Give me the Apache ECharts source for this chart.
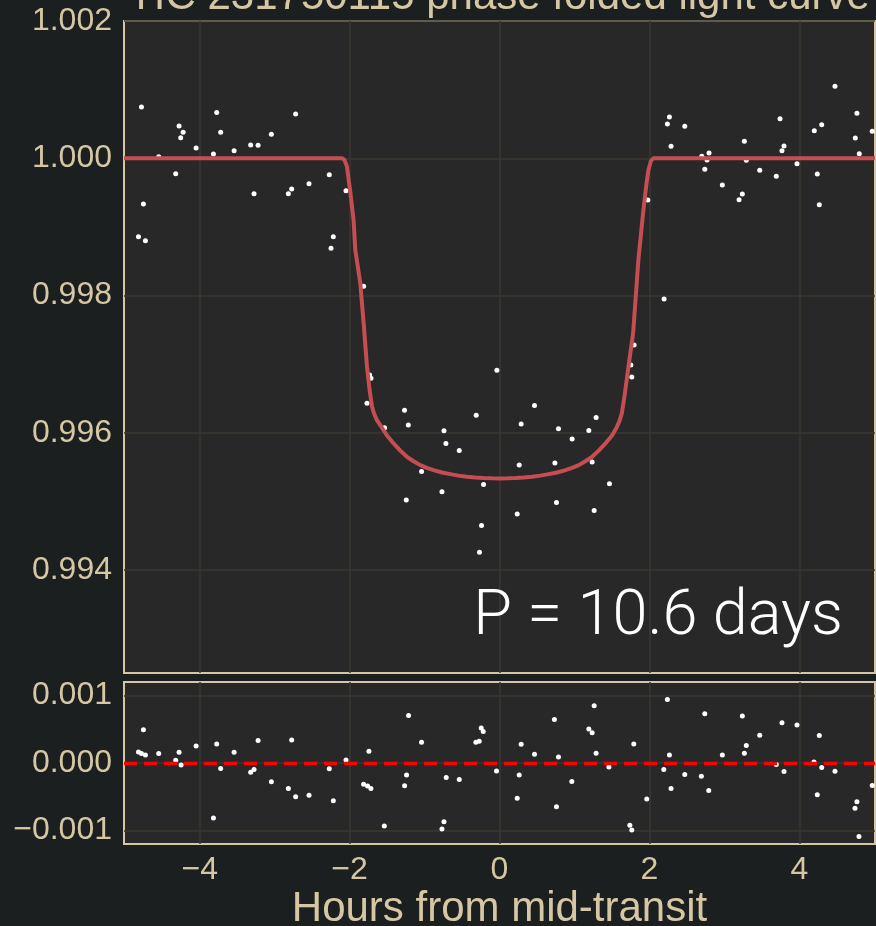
<!DOCTYPE html>
<html><head><meta charset="utf-8">
<script src="https://cdn.jsdelivr.net/npm/echarts@6/dist/echarts.min.js"></script>
<style>html,body{margin:0;padding:0;background:#1c1f20;}#c{width:876px;height:926px;}</style>
</head><body><div id="c"></div>
<script>
const titleText = 'TIC 231750115 phase folded light curve';
const xAxisName = 'Hours from mid-transit';
const periodLabel = 'P = 10.6 days';

const hourTicks = [-4, -2, 0, 2, 4];
const fluxTicks = [0.994, 0.996, 0.998, 1.000, 1.002];
const residTicks = [-0.001, 0, 0.001];

const obsHours = [-4.777,-3.773,-2.720,-4.275,-4.221,-4.253,-3.720,-3.044,-4.048,-3.320,-3.221,-3.541,-3.817,-4.547,-4.320,-2.271,-2.541,-2.773,-2.817,-3.275,-2.048,-4.751,-4.817,-4.724,-2.217,-2.248,
  4.476,4.769,2.267,2.240,2.472,3.743,4.299,4.200,4.973,4.747,3.267,2.289,3.796,3.769,2.796,2.699,4.800,2.769,3.293,3.969,2.739,3.472,3.693,4.240,2.973,3.240,3.196,4.267,1.979,2.196,
  -1.813,-1.715,-1.733,-1.768,-1.533,-1.267,-1.217,-0.741,-0.715,-0.537,-0.311,-0.035,-1.040,-1.244,-0.768,-0.213,-0.240,-0.267,
  0.467,0.289,0.787,0.969,1.192,1.289,0.263,0.739,1.236,1.467,0.236,0.760,1.263,1.796,1.765,1.752];
const obsFlux = [1.000748,1.000665,1.000646,1.000471,1.000379,1.000300,1.000379,1.000350,1.000150,1.000194,1.000190,1.000111,1.000063,1.000023,0.999776,0.999761,0.999630,0.999552,0.999484,0.999484,0.999528,0.999334,0.998857,0.998799,0.998857,0.998688,
  1.001050,1.000656,1.000602,1.000500,1.000466,1.000577,1.000490,1.000402,1.000394,1.000296,1.000248,1.000175,1.000179,1.000111,1.000077,1.000029,1.000067,0.999975,0.999971,0.999921,0.999840,0.999825,0.999738,0.999771,0.999611,0.999480,0.999397,0.999324,0.999392,0.997949,
  0.998134,0.996793,0.996841,0.996429,0.996073,0.996327,0.996112,0.996029,0.995845,0.995743,0.996254,0.996910,0.995437,0.995019,0.995140,0.995248,0.994650,0.994261,
  0.996399,0.996127,0.996058,0.995908,0.996035,0.996224,0.995529,0.995558,0.995573,0.995257,0.994815,0.994985,0.994869,0.997278,0.996812,0.996987];

const modelHours = [-5.01,-2.101,-2.068,-2.035,-1.990,-1.947,-1.924,-1.857,-1.810,-1.768,-1.735,-1.701,-1.670,-1.635,-1.591,-1.501,-1.413,-1.324,-1.235,-1.146,-1.057,-0.968,-0.880,-0.768,-0.657,-0.546,-0.435,-0.324,-0.213,-0.107,0,
  0.107,0.213,0.324,0.435,0.546,0.657,0.768,0.880,0.968,1.057,1.146,1.235,1.324,1.413,1.501,1.560,1.600,1.632,1.670,1.720,1.783,1.853,1.920,1.960,1.987,2.020,2.053,5.01];
const modelFlux = [1.0,1.0,0.999975,0.999878,0.999500,0.999101,0.998663,0.998178,0.997560,0.996962,0.996640,0.996379,0.996270,0.996185,0.996112,0.995960,0.995845,0.995740,0.995650,0.995585,0.995529,0.995488,0.995456,0.995422,0.995398,0.995376,0.995359,0.995348,0.995340,0.995336,0.995335,
  0.995336,0.995340,0.995348,0.995359,0.995376,0.995398,0.995422,0.995456,0.995488,0.995529,0.995585,0.995650,0.995740,0.995845,0.995960,0.996070,0.996170,0.996283,0.996550,0.996960,0.997453,0.998518,0.999246,0.999620,0.999829,0.999960,1.0,1.0];

const resHours = [-4.751,-4.817,-4.777,-4.724,-4.547,-4.275,-4.320,-4.248,-4.048,-3.817,-3.773,-3.720,-3.541,-3.320,-3.275,-3.221,-3.044,-2.817,-2.773,-2.720,-2.541,-2.271,-2.217,-2.048,-1.813,-1.760,-1.716,-1.742,-1.537,-1.266,-1.240,-1.213,-1.040,-0.768,-0.741,-0.711,-0.537,-0.315,-0.271,-0.244,-0.217,-0.040,
  0.263,0.236,0.289,0.467,0.733,0.787,0.760,0.965,1.192,1.236,1.263,1.289,1.460,1.792,1.739,1.765,1.965,2.192,2.240,2.267,2.289,2.472,2.693,2.739,2.792,2.973,3.240,3.267,3.293,3.472,3.693,3.769,3.796,3.969,4.196,4.267,4.299,4.240,4.476,4.743,4.769,4.796,4.973];
const resFlux = [0.000494,0.000164,0.000140,0.000119,0.000140,0.000159,0.000041,-0.000028,0.000252,-0.000814,0.000282,-0.000081,0.000159,-0.000136,-0.000096,0.000332,-0.000279,-0.000376,0.000341,-0.000500,-0.000479,-0.000087,-0.000559,0.000046,-0.000313,-0.000342,-0.000376,0.000174,-0.000932,-0.000338,-0.000176,0.000705,0.000307,-0.000976,-0.000869,-0.000214,-0.000243,0.000307,0.000322,0.000518,0.000465,-0.000117,
  -0.000176,-0.000524,0.000277,0.000130,0.000646,0.000090,-0.000648,-0.000273,0.000503,0.000450,0.000848,0.000145,-0.000058,0.000282,-0.000922,-0.000991,-0.000534,-0.000096,0.000941,0.000119,-0.000376,-0.000170,-0.000195,0.000730,-0.000406,0.000119,0.000695,0.000145,0.000258,0.000410,-0.000022,0.000597,-0.000125,0.000562,0.000016,0.000406,-0.000066,-0.000471,-0.000121,-0.000671,-0.000574,-0.001090,-0.000332];

const TAN = '#d6c7a4';
const GRIDC = '#3b3631';
const FONT = '"Liberation Sans", Arial, sans-serif';

const zip = (a, b) => a.map((v, i) => [v, b[i]]);
const minusFmt = (d) => (v) => (v < 0 ? '\u2212' : '') + Math.abs(v).toFixed(d);

function xAxisCfg(gridIndex, showLabels) {
  return {
    type: 'value', gridIndex, min: -5.01, max: 5.01,
    axisLine: { show: false }, axisTick: { show: false, customValues: hourTicks },
    axisLabel: { show: showLabels, customValues: hourTicks, formatter: minusFmt(0), color: TAN, fontFamily: FONT, fontSize: 32, margin: 10 },
    splitLine: { show: true, customValues: hourTicks, lineStyle: { color: GRIDC, width: 1.5 } },
    name: showLabels ? xAxisName : '', nameLocation: 'middle', nameGap: 44,
    nameTextStyle: { color: TAN, fontFamily: FONT, fontSize: 42 }
  };
}
function yAxisCfg(gridIndex, min, max, ticks) {
  return {
    type: 'value', gridIndex, min, max,
    axisLine: { show: false }, axisTick: { show: false, customValues: ticks },
    axisLabel: { customValues: ticks, formatter: minusFmt(3), color: TAN, fontFamily: FONT, fontSize: 32, margin: 12 },
    splitLine: { show: true, customValues: ticks, lineStyle: { color: GRIDC, width: 1.5 } }
  };
}

const chart = echarts.init(document.getElementById('c'), null, { renderer: 'canvas' });
chart.setOption({
  animation: false,
  backgroundColor: '#1c1f20',
  grid: [
    { left: 124, right: 1, top: 21, height: 652, outerBoundsMode: 'none', containLabel: false, show: true, backgroundColor: '#282828', borderColor: TAN, borderWidth: 2 },
    { left: 124, right: 1, top: 682, height: 162, outerBoundsMode: 'none', containLabel: false, show: true, backgroundColor: '#282828', borderColor: TAN, borderWidth: 2 }
  ],
  xAxis: [xAxisCfg(0, false), xAxisCfg(1, true)],
  yAxis: [yAxisCfg(0, 0.9925, 1.002, fluxTicks), yAxisCfg(1, -0.0012, 0.0012, residTicks)],
  graphic: [
    { type: 'text', x: 499, y: -3, z: 100, style: { text: titleText, fill: TAN, font: '42px ' + FONT, align: 'center', verticalAlign: 'middle' } },
    { type: 'text', x: 843, y: 618, z: 100, style: { text: periodLabel, fill: '#ffffff', font: '300 63px Roboto, sans-serif', align: 'right', verticalAlign: 'middle' } }
  ],
  series: [
    { type: 'scatter', xAxisIndex: 0, yAxisIndex: 0, data: zip(obsHours, obsFlux), symbolSize: 5, itemStyle: { color: '#ffffff', opacity: 1 }, z: 2 },
    { type: 'line', xAxisIndex: 0, yAxisIndex: 0, data: zip(modelHours, modelFlux), showSymbol: false, symbol: 'none', lineStyle: { color: '#c44e52', width: 4, join: 'round' }, z: 3 },
    { type: 'scatter', xAxisIndex: 1, yAxisIndex: 1, data: zip(resHours, resFlux), symbolSize: 5, itemStyle: { color: '#ffffff', opacity: 1 }, z: 2 },
    { type: 'line', xAxisIndex: 1, yAxisIndex: 1, data: [], z: 4,
      markLine: { silent: true, symbol: 'none', label: { show: false }, lineStyle: { color: '#ff0000', width: 3.3, type: [13, 7] }, data: [{ yAxis: 0 }] } }
  ]
});
</script></body></html>
